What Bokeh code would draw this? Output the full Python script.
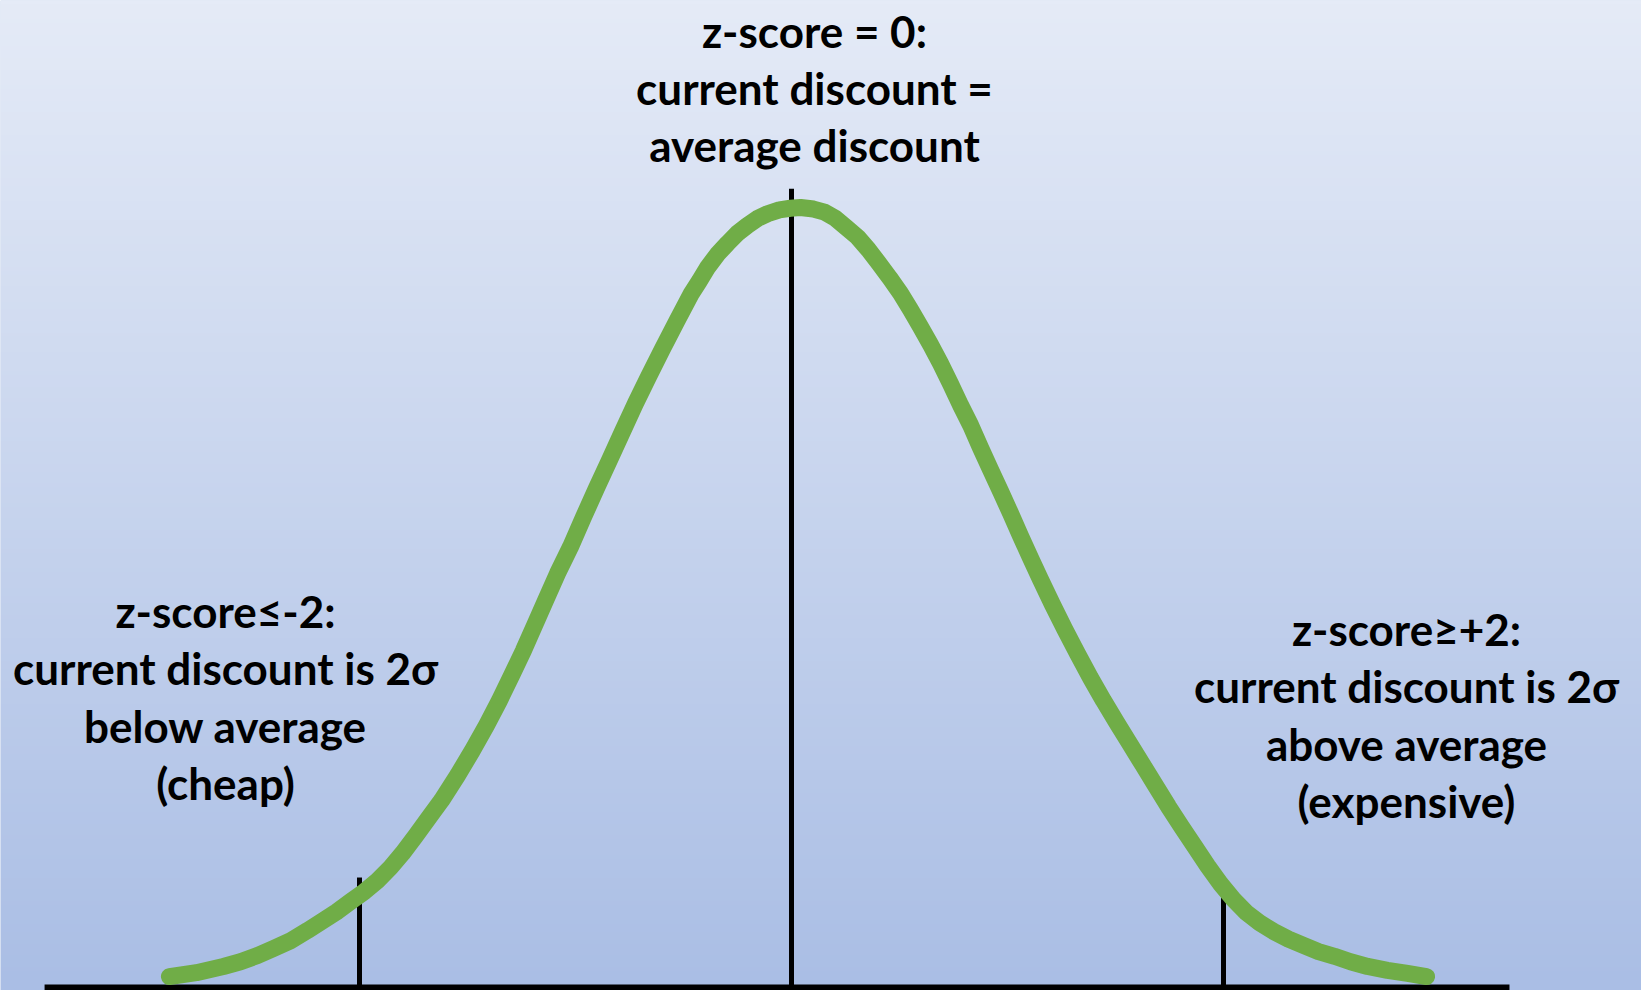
import numpy as np
from bokeh.plotting import figure
from bokeh.models import Range1d
from bokeh.core.properties import value
from bokeh.embed import file_html
from bokeh.resources import INLINE

# ---- data (x in z-score units, y as height relative to the peak) ----
curve_z = [-2.880, -2.755, -2.630, -2.551, -2.472, -2.398, -2.319, -2.241, -2.167,
           -2.106, -2.042, -1.977, -1.917, -1.856, -1.801, -1.741, -1.681, -1.620,
           -1.546, -1.477, -1.412, -1.352, -1.296, -1.241, -1.190, -1.139, -1.083,
           -1.023, -0.963, -0.903, -0.843, -0.782, -0.722, -0.662, -0.597, -0.528,
           -0.463, -0.426, -0.389, -0.343, -0.296, -0.250, -0.204, -0.157, -0.111,
           -0.056, -0.005, 0.042,
           0.102, 0.153, 0.204, 0.255, 0.306, 0.356, 0.403, 0.454, 0.505, 0.551,
           0.597, 0.644, 0.690, 0.736, 0.782, 0.829, 0.875, 0.921, 0.968, 1.014,
           1.060, 1.106, 1.153, 1.208, 1.264, 1.324, 1.384, 1.444, 1.505, 1.565,
           1.625, 1.685, 1.745, 1.806, 1.866, 1.926, 1.986, 2.046, 2.106, 2.167,
           2.231, 2.301, 2.370, 2.440, 2.514, 2.588, 2.667, 2.759, 2.852, 2.940]
curve_h = [0.014, 0.019, 0.027, 0.033, 0.041, 0.050, 0.060, 0.073, 0.086,
           0.097, 0.110, 0.123, 0.137, 0.154, 0.172, 0.194, 0.217, 0.240,
           0.272, 0.304, 0.336, 0.368, 0.400, 0.432, 0.464, 0.496, 0.531,
           0.565, 0.603, 0.640, 0.676, 0.713, 0.749, 0.783, 0.819, 0.856,
           0.890, 0.906, 0.923, 0.940, 0.954, 0.967, 0.977, 0.986, 0.992,
           0.997, 0.999, 1.000,
           0.998, 0.994, 0.986, 0.974, 0.962, 0.946, 0.929, 0.910, 0.890, 0.869,
           0.847, 0.824, 0.800, 0.774, 0.747, 0.721, 0.692, 0.664, 0.636, 0.608,
           0.579, 0.551, 0.523, 0.491, 0.460, 0.428, 0.397, 0.368, 0.340, 0.313,
           0.286, 0.259, 0.232, 0.206, 0.181, 0.156, 0.133, 0.113, 0.096, 0.083,
           0.072, 0.062, 0.054, 0.046, 0.040, 0.033, 0.027, 0.022, 0.018, 0.014]

marker_z = [-2.0, 0.0, 2.0]          # z-score markers
marker_top = [0.141, 1.024, 0.141]   # marker heights

axis_z = [-3.458, 3.324]             # baseline extent

top_lines = ["z-score = 0:", "current discount =", "average discount"]
left_lines = ["z-score\u2264-2:", "current discount is 2\u03c3", "below average", "(cheap)"]
right_lines = ["z-score\u2265+2:", "current discount is 2\u03c3", "above average", "(expensive)"]

# ---- layout ----
W, H = 1641, 990
PX_Z = 216.0      # pixels per z unit
X0 = 791.0        # pixel of z = 0
PX_H = 780.0      # pixels per height unit
Y0 = 987.0        # pixel of height 0

p = figure(width=W, height=H, output_backend="svg", toolbar_location=None,
           x_axis_location=None, y_axis_location=None, min_border=0,
           x_range=Range1d(-X0 / PX_Z, (W - X0) / PX_Z),
           y_range=Range1d(-(H - Y0) / PX_H, Y0 / PX_H))
p.outline_line_color = None
p.grid.visible = False
p.background_fill_color = "#C8D5EE"
p.border_fill_color = "#C8D5EE"

# background vertical gradient
n = 256
top = np.array([229, 235, 247], dtype=float)
bot = np.array([170, 190, 229], dtype=float)
t = np.linspace(0, 1, n)[:, None]  # row 0 = bottom
cols = bot + (top - bot) * t
img = np.zeros((n, 1), dtype=np.uint32)
view = img.view(dtype=np.uint8).reshape((n, 1, 4))
view[:, 0, 0] = cols[:, 0].astype(np.uint8)
view[:, 0, 1] = cols[:, 1].astype(np.uint8)
view[:, 0, 2] = cols[:, 2].astype(np.uint8)
view[:, 0, 3] = 255
xr0, xr1 = p.x_range.start, p.x_range.end
yr0, yr1 = p.y_range.start, p.y_range.end
p.image_rgba(image=[img], x=xr0, y=yr0, dw=xr1 - xr0, dh=yr1 - yr0)

# baseline
p.line(x=axis_z, y=[0, 0], line_color="black", line_width=6)

# markers
p.segment(x0=marker_z, y0=[0] * 3, x1=marker_z, y1=marker_top,
          line_color="black", line_width=5)

# curve
p.line(x=curve_z, y=curve_h, line_color="#70AD47", line_width=17,
       line_cap="round", line_join="round")

# text blocks
def block(lines, xpx, first_base_px, step_px):
    xs = [(xpx - X0) / PX_Z] * len(lines)
    ys = [(Y0 - (first_base_px + i * step_px)) / PX_H for i in range(len(lines))]
    p.text(x=xs, y=ys, text=lines, text_font=value("Lato"), text_font_style="bold",
           text_font_size="44px", text_align="center", text_baseline="alphabetic",
           text_color="black")

block(top_lines, 814, 30, 57)
block(left_lines, 225, 610, 57.5)
block(right_lines, 1406, 628, 57.5)

open("out.html", "w").write(file_html(p, INLINE))
